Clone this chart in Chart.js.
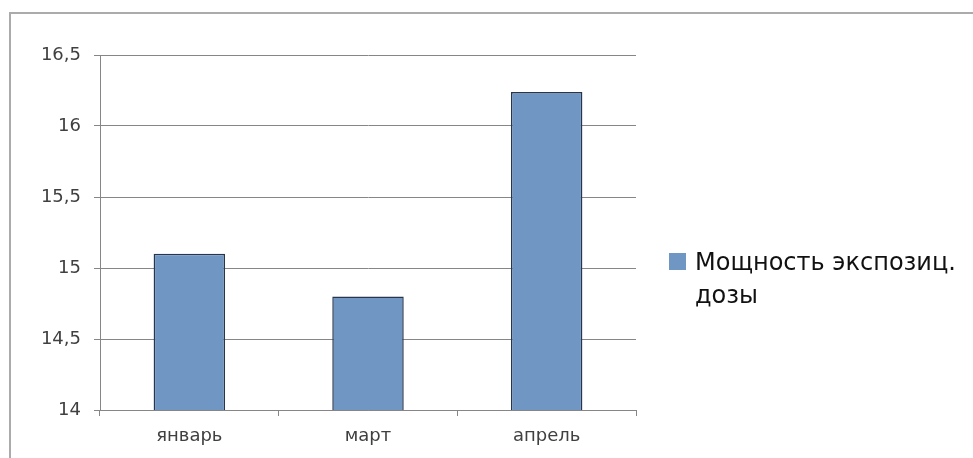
<!DOCTYPE html>
<html>
<head>
<meta charset="utf-8">
<script src="https://cdn.jsdelivr.net/npm/chart.js@4"></script>
<style>
  html, body { margin: 0; padding: 0; background: #fff; overflow: hidden; width: 973px; height: 458px; }
  #frame { position: absolute; left: 9px; top: 12px; width: 1400px; height: 900px; border: 2px solid #ababab; }
  #wrap { position: absolute; left: 0; top: 0; width: 973px; height: 458px; }
</style>
</head>
<body>
<div id="frame"></div>
<div id="wrap"><canvas id="myChart"></canvas></div>
<script>
// data
var months = ["январь", "март", "апрель"];
var doseRate = [15.1, 14.8, 16.24];
var seriesName = "Мощность экспозиц. дозы";
var yMin = 14, yMax = 16.5, yStep = 0.5;

var barColor = "#7096c4";
var barEdge = "#27364f";

// legend on the right, wrapped like the original
var sideLegend = {
  id: "sideLegend",
  afterDraw: function(chart) {
    var ctx = chart.ctx;
    var ds = chart.data.datasets[0];
    ctx.save();
    ctx.fillStyle = ds.backgroundColor;
    ctx.fillRect(669, 253, 17, 17);
    ctx.font = "24px 'DejaVu Sans'";
    ctx.fillStyle = "#111";
    ctx.textBaseline = "alphabetic";
    var words = ds.label.split(" ");
    var lines = [], line = "";
    words.forEach(function(w) {
      var test = line ? line + " " + w : w;
      if (ctx.measureText(test).width > 272 && line) {
        lines.push(line);
        line = w;
      } else {
        line = test;
      }
    });
    lines.push(line);
    lines.forEach(function(l, i) {
      ctx.fillText(l, 695, 270 + i * 33);
    });
    ctx.restore();
  }
};

var ctx = document.getElementById('myChart').getContext('2d');
var chart = new Chart(ctx, {
  type: 'bar',
  data: {
    labels: months,
    datasets: [{
      label: seriesName,
      data: doseRate,
      backgroundColor: barColor,
      borderColor: barEdge,
      borderWidth: 1.5,
      borderSkipped: false,
      barPercentage: 0.4,
      categoryPercentage: 1
    }]
  },
  options: {
    responsive: true,
    maintainAspectRatio: false,
    animation: false,
    layout: { padding: { top: 55, right: 337, bottom: 0, left: 0 } },
    plugins: {
      legend: { display: false },
      tooltip: { enabled: false }
    },
    scales: {
      x: {
        offset: true,
        grid: {
          offset: true,
          drawOnChartArea: false,
          drawTicks: true,
          tickLength: 6,
          color: "#868686"
        },
        border: { color: "#868686", width: 1 },
        ticks: {
          color: "#404040",
          font: { family: "DejaVu Sans", size: 18 },
          padding: 10
        },
        afterFit: function(scale) { scale.height = 48; }
      },
      y: {
        min: yMin,
        max: yMax,
        grid: {
          color: "#868686",
          lineWidth: 1,
          drawTicks: true,
          tickLength: 6
        },
        border: { color: "#868686", width: 1 },
        ticks: {
          stepSize: yStep,
          color: "#404040",
          font: { family: "DejaVu Sans", size: 18 },
          padding: 13,
          callback: function(v) { return String(v).replace(".", ","); }
        },
        afterFit: function(scale) { scale.width = 100; }
      }
    }
  },
  plugins: [sideLegend]
});
</script>
</body>
</html>
